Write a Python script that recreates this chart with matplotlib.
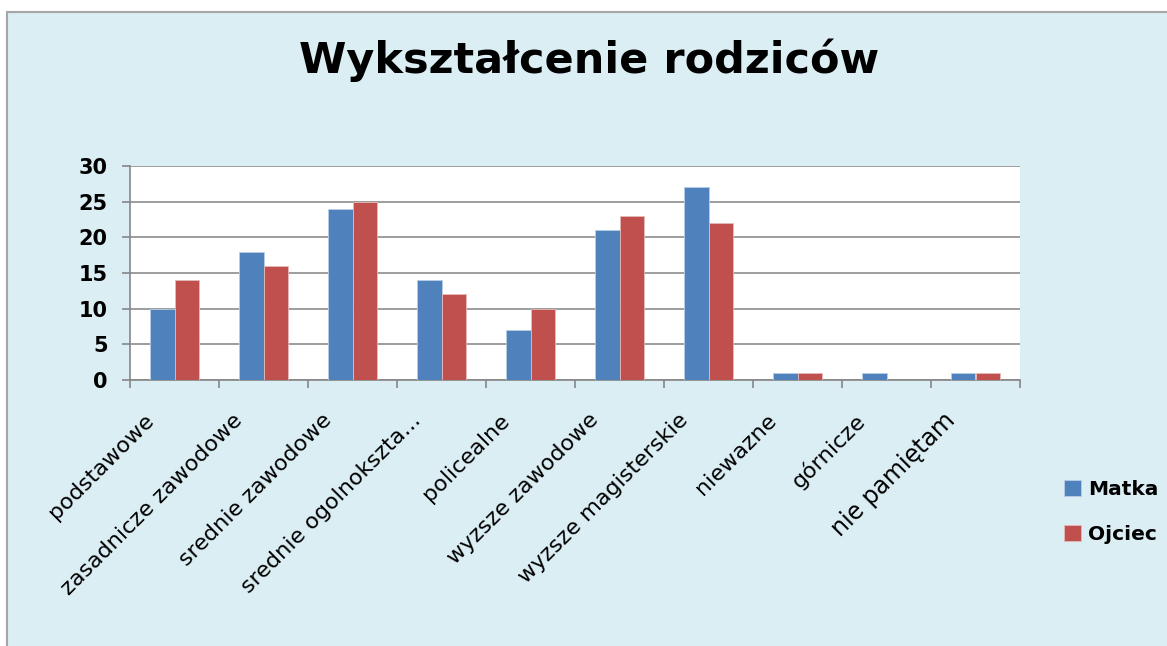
import matplotlib
matplotlib.use("Agg")
from matplotlib import pyplot as plt
from matplotlib.patches import Rectangle
from matplotlib.transforms import ScaledTranslation
import numpy as np

# data
categories = ['podstawowe', 'zasadnicze zawodowe', 'srednie zawodowe',
              'srednie ogolnokszta...', 'policealne', 'wyzsze zawodowe',
              'wyzsze magisterskie', 'niewazne', 'górnicze', 'nie pamiętam']
matka = [10, 18, 24, 14, 7, 21, 27, 1, 1, 1]
ojciec = [14, 16, 25, 12, 10, 23, 22, 1, 0, 1]
series_names = ['Matka', 'Ojciec']

BLUE = '#4F81BD'
RED = '#C0504D'
BG = '#DBEEF4'
GRID = '#8C8C8C'
W, H = 1167, 646

plt.rcParams['font.family'] = ['DejaVu Sans']

fig = plt.figure(figsize=(W / 100, H / 100), dpi=100)
fig.patch.set_facecolor('white')

# chart area background box (behind everything)
fig.patches.append(Rectangle((7 / W, -0.1), 1.2, 1.1 - 12 / H, transform=fig.transFigure,
                             facecolor=BG, edgecolor='#A6A6A6', linewidth=1.5, zorder=-10))

ax = fig.add_axes([130 / W, 1 - 380 / H, (1020 - 130) / W, (380 - 166) / H])
ax.set_facecolor('white')

x = np.arange(len(categories))
bw = 0.28
ax.bar(x - bw / 2, matka, width=bw, color=BLUE, edgecolor='#B9CDE5', linewidth=0.6,
       label=series_names[0], zorder=3)
ax.bar(x + bw / 2, ojciec, width=bw, color=RED, edgecolor='#E6B9B8', linewidth=0.6,
       label=series_names[1], zorder=3)

ax.set_xlim(-0.5, len(categories) - 0.5)
ax.set_ylim(0, 30)
ax.set_yticks(range(0, 31, 5))
ax.yaxis.grid(True, color=GRID, linewidth=1.2, zorder=1)
ax.set_axisbelow(True)

for side in ['top', 'right']:
    ax.spines[side].set_visible(False)
for side in ['left', 'bottom']:
    ax.spines[side].set_color('#868686')
    ax.spines[side].set_linewidth(1.2)

ax.tick_params(axis='y', length=6, width=1.2, color='#868686', labelsize=15, pad=10)
for lab in ax.get_yticklabels():
    lab.set_fontweight('bold')

# category boundaries get the tick marks, centers get the labels
ax.set_xticks(np.arange(-0.5, len(categories), 1.0), minor=True)
ax.tick_params(axis='x', which='minor', length=6, width=1.2, color='#868686')
ax.set_xticks(x)
ax.set_xticklabels(categories, rotation=45, ha='right', va='center',
                   rotation_mode='anchor', fontsize=16)
ax.tick_params(axis='x', which='major', length=0, pad=0)
offset = ScaledTranslation(-0.24, -0.37, fig.dpi_scale_trans)
for i, lab in enumerate(ax.get_xticklabels()):
    lab.set_transform(lab.get_transform() + offset)
    if i == len(categories) - 1:
        lab.set_fontsize(17)

fig.text(589 / W, 1 - 60 / H, 'Wykształcenie rodziców', ha='center', va='center',
         fontsize=31, fontweight='bold')

leg = fig.legend(loc='center left', bbox_to_anchor=(1046 / W, 1 - 512 / H),
                 frameon=False, fontsize=14.5, handlelength=0.85, handleheight=0.85,
                 handletextpad=0.35, labelspacing=1.3)
for t in leg.get_texts():
    t.set_fontweight('bold')

fig.savefig('out.png', dpi=100, facecolor=fig.get_facecolor())
